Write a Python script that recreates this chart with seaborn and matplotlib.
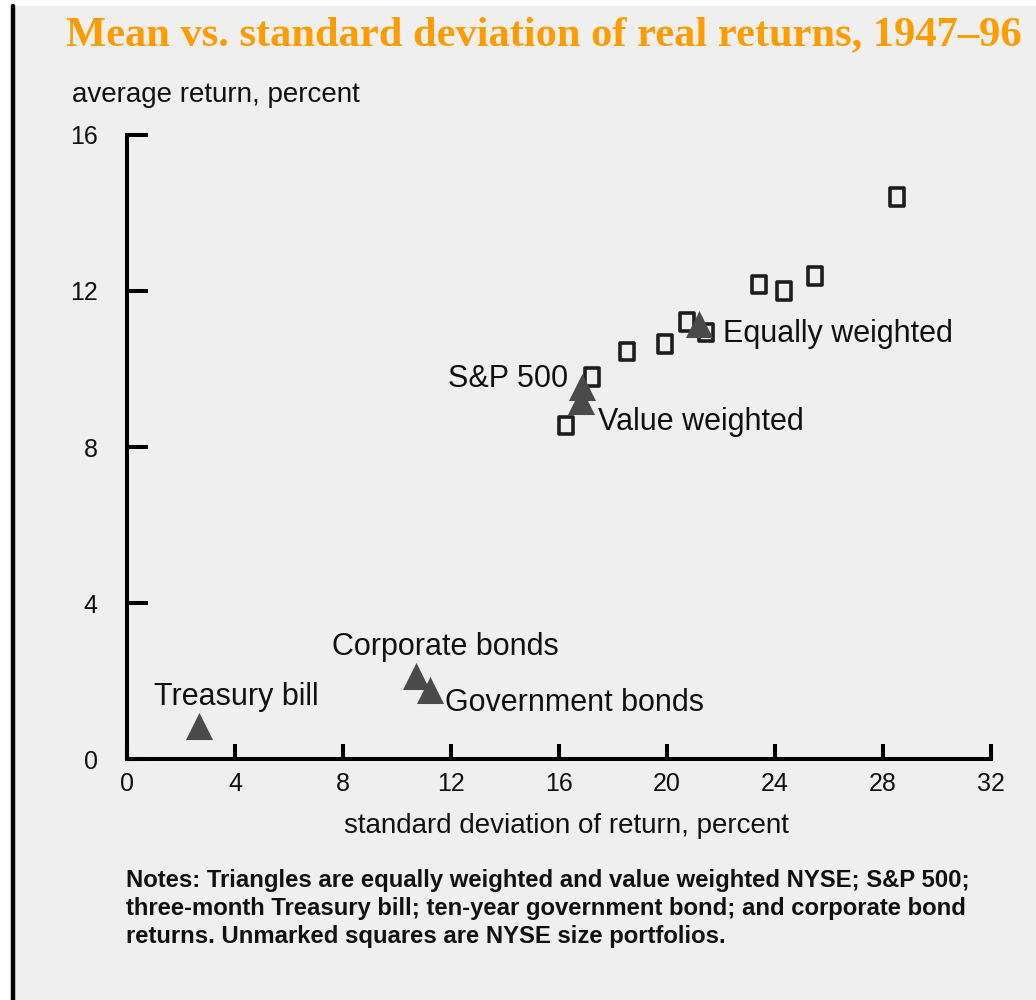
import matplotlib
matplotlib.use("Agg")
import matplotlib.pyplot as plt
from matplotlib.path import Path
from matplotlib.markers import MarkerStyle
from matplotlib.patches import Rectangle
from matplotlib.lines import Line2D
import seaborn as sns

# ---- data ----
# NYSE size portfolios (unmarked squares)
square_sd = [16.27, 17.23, 18.52, 19.93, 20.73, 21.43, 23.41, 24.32, 25.49, 28.51]
square_mean = [8.55, 9.80, 10.45, 10.64, 11.21, 10.94, 12.17, 12.00, 12.38, 14.41]

# labelled assets (triangles)
tri_names = ["Equally weighted", "S&P 500", "Value weighted",
             "Corporate bonds", "Government bonds", "Treasury bill"]
tri_sd = [21.17, 16.84, 16.80, 10.71, 11.24, 2.66]
tri_mean = [11.16, 9.55, 9.17, 2.13, 1.78, 0.86]

x_ticks = [0, 4, 8, 12, 16, 20, 24, 28, 32]
y_ticks = [0, 4, 8, 12, 16]

title = "Mean vs. standard deviation of real returns, 1947\u201396"
notes = ["Notes: Triangles are equally weighted and value weighted NYSE; S&P 500;",
         "three-month Treasury bill; ten-year government bond; and corporate bond",
         "returns. Unmarked squares are NYSE size portfolios."]

# label placement (offset in points from each triangle, alignment)
label_pos = {
    "Equally weighted": (17.5, -13, "left"),
    "S&P 500": (-9.6, 0, "right"),
    "Value weighted": (12.7, -20.6, "left"),
    "Corporate bonds": (-60.5, 15.3, "left"),
    "Government bonds": (10.4, -15.6, "left"),
    "Treasury bill": (-32.4, 15, "left"),
}

# ---- style ----
sns.set_style("white")
plt.rcParams["font.family"] = ["Liberation Sans", "DejaVu Sans"]
bg = "#efefef"
ink = "#111111"

fig = plt.figure(figsize=(10.36, 10.0), dpi=100)
fig.patch.set_facecolor("white")
# gray panel and black left rule
fig.patches.append(Rectangle((15 / 1036, 0), 1 - 15 / 1036, 1 - 6 / 1000,
                             transform=fig.transFigure, facecolor=bg,
                             edgecolor="none", zorder=-10))
fig.lines.append(Line2D([13 / 1036, 13 / 1036], [0, 1 - 6 / 1000],
                        transform=fig.transFigure, color="black", lw=3.2))

ax = fig.add_axes([127 / 1036, 1 - 759.3 / 1000, 864 / 1036, 624.5 / 1000])
ax.set_facecolor(bg)

# squares, slightly taller than wide as in the original
rect = Path([(-0.4, -0.5), (0.4, -0.5), (0.4, 0.5), (-0.4, 0.5), (-0.4, -0.5)],
            [Path.MOVETO, Path.LINETO, Path.LINETO, Path.LINETO, Path.CLOSEPOLY])
sns.scatterplot(x=square_sd, y=square_mean, marker=MarkerStyle(rect), s=160,
                facecolors="none", edgecolor="#1e1e1e", linewidth=2.6,
                ax=ax, zorder=3, clip_on=False)

sns.scatterplot(x=tri_sd, y=tri_mean, marker="^", s=380, color="#4a4a4a",
                linewidth=0, ax=ax, zorder=4, clip_on=False)

for name, x, y in zip(tri_names, tri_sd, tri_mean):
    dx, dy, ha = label_pos[name]
    ax.annotate(name, xy=(x, y), xytext=(dx, dy), textcoords="offset points",
                ha=ha, va="baseline", fontsize=22, color=ink, zorder=5)

ax.set_xlim(0, 32)
ax.set_ylim(0, 16)
ax.set_xticks(x_ticks)
ax.set_yticks(y_ticks)
ax.set_xticklabels([str(t) for t in x_ticks])
ax.set_yticklabels([str(t) for t in y_ticks])

sns.despine(ax=ax)
for side in ["left", "bottom"]:
    ax.spines[side].set_color("black")
    ax.spines[side].set_linewidth(2.9)
ax.tick_params(axis="x", bottom=True, direction="in", length=11, width=2.9,
               pad=9, labelsize=18, colors="black")
ax.tick_params(axis="y", left=True, direction="in", length=15, width=2.9,
               pad=21, labelsize=18, colors="black")
for lab in ax.get_xticklabels() + ax.get_yticklabels():
    lab.set_color(ink)

# titles and axis captions
fig.text(66 / 1036, 1 - 45 / 1000, title, ha="left", va="baseline",
         fontsize=30.6, fontweight="bold", color="#ff9c00",
         family=["Liberation Serif", "DejaVu Serif"])
fig.text(72 / 1036, 1 - 101.7 / 1000, "average return, percent",
         ha="left", va="baseline", fontsize=20, color=ink)
fig.text(566 / 1036, 1 - 833 / 1000, "standard deviation of return, percent",
         ha="center", va="baseline", fontsize=20, color=ink)

for i, line in enumerate(notes):
    fig.text(126 / 1036, 1 - (887 + 28 * i) / 1000, line, ha="left",
             va="baseline", fontsize=17.2, fontweight="bold", color=ink)

fig.savefig("out.png", dpi=100, facecolor=fig.get_facecolor())
